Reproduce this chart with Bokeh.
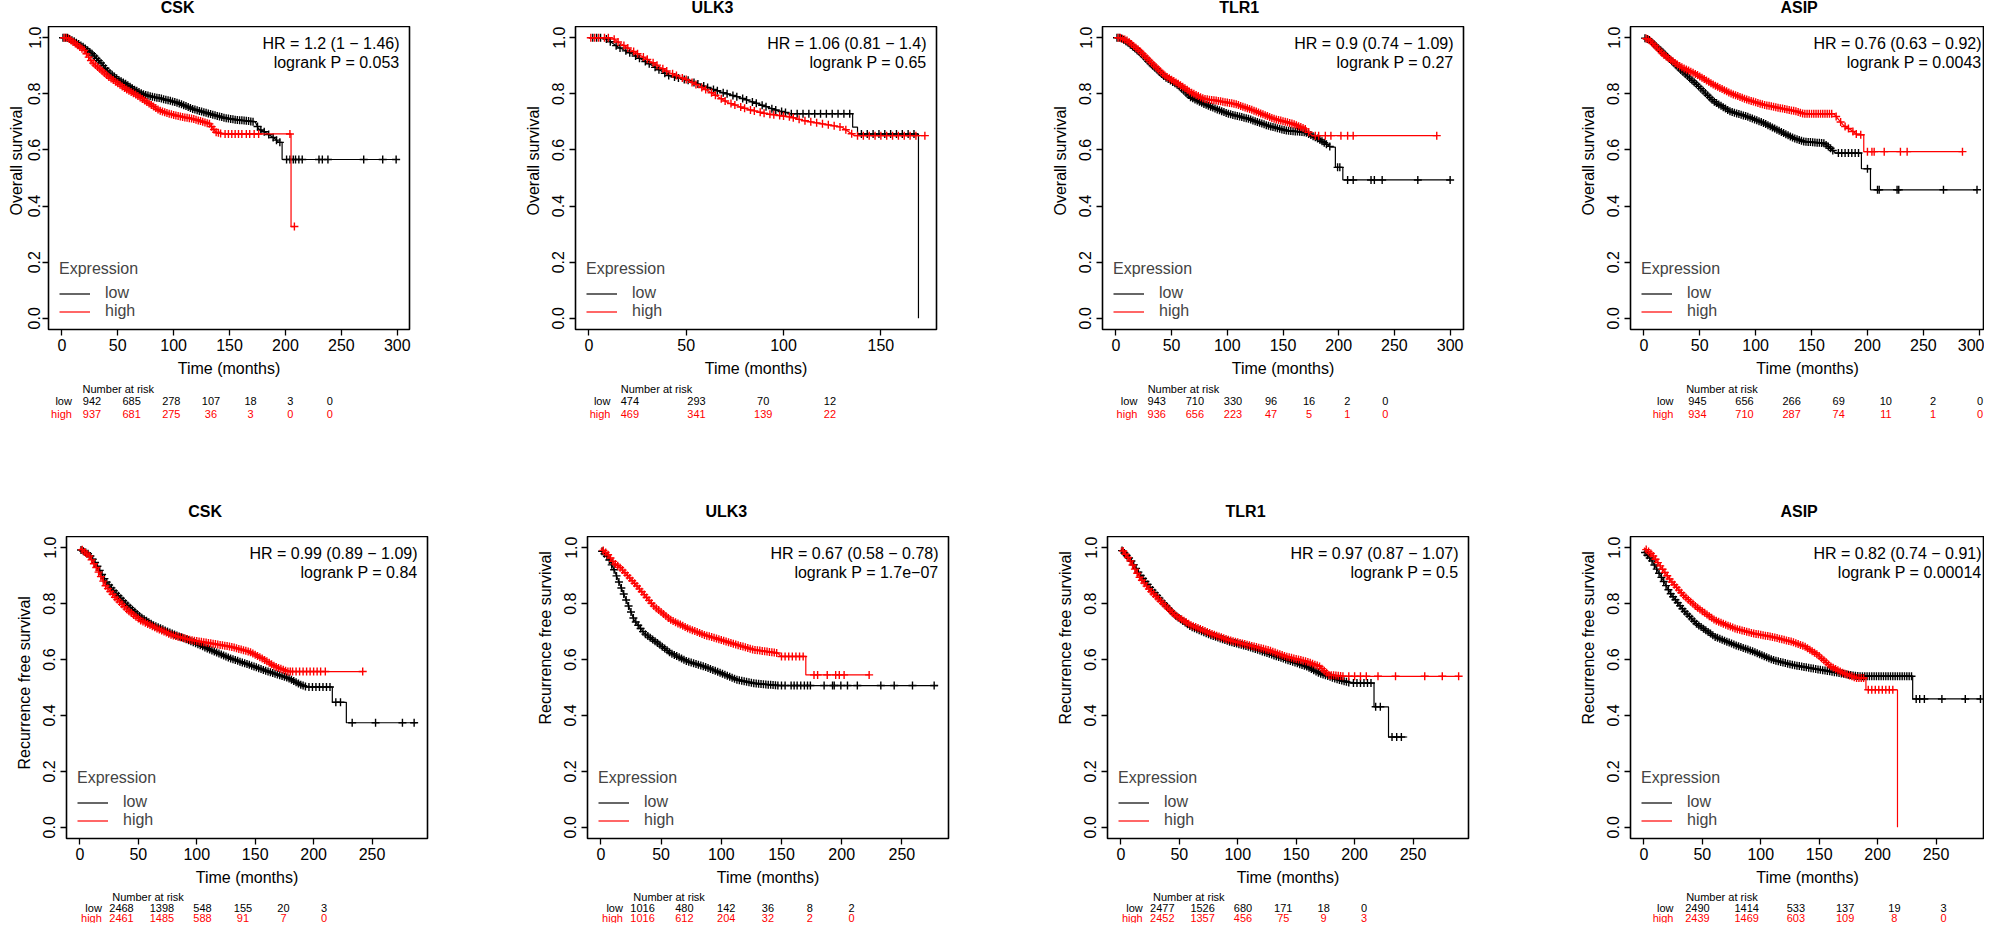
import numpy as np
from bokeh.plotting import figure
from bokeh.models import Range1d, FixedTicker, PrintfTickFormatter, Legend, LegendItem, Title
from bokeh.layouts import row, column
from bokeh.embed import file_html
from bokeh.resources import INLINE
from bokeh.core.properties import value

FONT = "Liberation Sans"
RED = "#ff0000"
BLACK = "#000000"

# ---------------------------------------------------------------- data
genes = ["CSK", "ULK3", "TLR1", "ASIP"]
y_ticks = [0.0, 0.2, 0.4, 0.6, 0.8, 1.0]
os_ticks = [[0, 50, 100, 150, 200, 250, 300], [0, 50, 100, 150],
            [0, 50, 100, 150, 200, 250, 300], [0, 50, 100, 150, 200, 250, 300]]
rfs_ticks = [[0, 50, 100, 150, 200, 250]] * 4
os_tmax = [299, 171.7, 300, 299]
rfs_tmax = [286, 277.6, 286, 286]
os_hr = ["HR = 1.2 (1 \u2212 1.46)", "HR = 1.06 (0.81 \u2212 1.4)",
         "HR = 0.9 (0.74 \u2212 1.09)", "HR = 0.76 (0.63 \u2212 0.92)"]
os_p = ["logrank P = 0.053", "logrank P = 0.65", "logrank P = 0.27", "logrank P = 0.0043"]
rfs_hr = ["HR = 0.99 (0.89 \u2212 1.09)", "HR = 0.67 (0.58 \u2212 0.78)",
          "HR = 0.97 (0.87 \u2212 1.07)", "HR = 0.82 (0.74 \u2212 0.91)"]
rfs_p = ["logrank P = 0.84", "logrank P = 1.7e\u221207", "logrank P = 0.5", "logrank P = 0.00014"]

# ---- Overall survival: CSK
os_csk_low_t = [0, 5, 12, 20, 27, 35, 42, 50, 57, 65, 72, 80, 87, 95, 102, 110, 117, 125, 132, 140,
                147, 155, 162, 173, 176, 182, 186, 191, 194, 197, 197, 299]
os_csk_low_s = [1.0, 1.0, 0.985, 0.965, 0.943, 0.91, 0.877, 0.852, 0.836, 0.815, 0.80, 0.79, 0.785, 0.777,
                0.77, 0.758, 0.746, 0.737, 0.729, 0.72, 0.713, 0.708, 0.705, 0.70, 0.675, 0.663, 0.652,
                0.639, 0.627, 0.627, 0.566, 0.566]
os_csk_low_c = [1, 3, 5, 7, 9, 11, 13, 15, 17, 19, 21, 23, 25, 27, 29, 31, 33, 35, 37, 39, 41, 43, 45, 47,
                49, 51, 53, 55, 57, 59, 61, 63, 65, 67, 69, 71, 73, 75, 77, 79, 81, 83, 85, 87, 89, 91, 93,
                95, 97, 99, 101, 103, 105, 107, 109, 111, 113, 115, 117, 119, 121, 123, 125, 127, 129, 131,
                133, 135, 137, 139, 141, 143, 145, 147, 149, 151, 153, 155, 157, 159, 161, 163, 165, 167,
                169, 171, 175, 178, 181, 185, 189, 192, 195, 201, 204, 207, 209, 212, 215, 230, 233, 238,
                270, 287, 299]
os_csk_high_t = [0, 5, 12, 20, 27, 35, 42, 50, 57, 65, 72, 80, 87, 95, 102, 110, 117, 125, 132, 138,
                 144, 205, 205, 208]
os_csk_high_s = [1.0, 1.0, 0.979, 0.955, 0.913, 0.885, 0.86, 0.838, 0.818, 0.80, 0.782, 0.76, 0.741, 0.73,
                 0.723, 0.716, 0.711, 0.702, 0.693, 0.663, 0.657, 0.657, 0.327, 0.327]
os_csk_high_c = [2, 4, 6, 8, 10, 12, 14, 16, 18, 20, 22, 24, 26, 28, 30, 32, 34, 36, 38, 40, 42, 44, 46,
                 48, 50, 52, 54, 56, 58, 60, 62, 64, 66, 68, 70, 72, 74, 76, 78, 80, 82, 84, 86, 88, 90, 92,
                 94, 96, 98, 100, 102, 104, 106, 108, 110, 112, 114, 116, 118, 120, 122, 124, 126, 128,
                 130, 132, 134, 136, 138, 140, 142, 146, 149, 152, 155, 158, 161, 165, 168, 172, 176, 204,
                 208]
os_csk_risk_low = [942, 685, 278, 107, 18, 3, 0]
os_csk_risk_high = [937, 681, 275, 36, 3, 0, 0]

# ---- Overall survival: ULK3
os_ulk3_low_t = [0, 8, 15, 22, 31, 41, 51, 58, 68, 77, 87, 97, 104, 135.5, 135.5, 138, 138, 169.3, 169.3]
os_ulk3_low_s = [1.0, 1.0, 0.967, 0.943, 0.907, 0.865, 0.848, 0.83, 0.806, 0.788, 0.764, 0.74, 0.729,
                 0.729, 0.681, 0.681, 0.657, 0.657, 0.0]
os_ulk3_low_c = [2, 4, 6, 9, 11, 14, 16, 19, 21, 24, 26, 29, 31, 34, 36, 39, 41, 44, 46, 49, 51, 54, 56,
                 59, 61, 64, 66, 69, 71, 74, 76, 79, 81, 84, 86, 89, 91, 94, 96, 99, 101, 104, 107, 110,
                 113, 116, 119, 122, 125, 128, 131, 134, 140, 143, 146, 149, 152, 155, 158, 161, 164, 167]
os_ulk3_high_t = [0, 12, 15, 22, 31, 41, 51, 61, 71, 81, 91, 104, 110, 120, 130, 136.5, 172.6]
os_ulk3_high_s = [1.0, 1.0, 0.985, 0.955, 0.919, 0.877, 0.848, 0.812, 0.77, 0.746, 0.729, 0.717, 0.705,
                  0.693, 0.681, 0.651, 0.651]
os_ulk3_high_c = [1, 3, 5, 8, 10, 13, 15, 18, 20, 23, 25, 28, 30, 33, 35, 38, 40, 43, 45, 48, 50, 53, 55,
                  58, 60, 63, 65, 68, 70, 73, 75, 78, 80, 83, 85, 88, 90, 93, 95, 98, 100, 103, 105, 108,
                  111, 114, 117, 120, 123, 126, 129, 132, 135, 138, 141, 144, 147, 150, 153, 156, 159, 162,
                  165, 168, 172.6]
os_ulk3_risk_low = [474, 293, 70, 12]
os_ulk3_risk_high = [469, 341, 139, 22]

# ---- Overall survival: TLR1
os_tlr1_low_t = [0, 4, 10, 21, 33, 44, 56, 67, 79, 90, 101, 119, 136, 153, 170, 182, 193, 197, 197,
                 203.7, 203.7, 300]
os_tlr1_low_s = [1.0, 1.0, 0.985, 0.949, 0.90, 0.86, 0.83, 0.788, 0.764, 0.746, 0.729, 0.711, 0.687,
                 0.669, 0.663, 0.639, 0.61, 0.61, 0.538, 0.538, 0.493, 0.493]
os_tlr1_low_c = [1, 3, 5, 7, 9, 11, 13, 15, 17, 19, 21, 23, 25, 27, 29, 31, 33, 35, 37, 39, 41, 43, 45,
                 47, 49, 51, 53, 55, 57, 59, 61, 63, 65, 67, 69, 71, 73, 75, 77, 79, 81, 83, 85, 87, 89, 91,
                 93, 95, 97, 99, 101, 103, 105, 107, 109, 111, 113, 115, 117, 119, 121, 123, 125, 127, 129,
                 131, 133, 135, 137, 139, 141, 143, 145, 147, 149, 151, 153, 155, 157, 159, 161, 163, 165,
                 167, 169, 171, 173, 175, 177, 179, 181, 183, 185, 187, 189, 192, 199, 201, 208, 213, 229,
                 232, 239, 271, 300]
os_tlr1_high_t = [0, 4, 10, 21, 33, 44, 56, 67, 79, 90, 107, 124, 142, 159, 170, 176, 288]
os_tlr1_high_s = [1.0, 1.0, 0.99, 0.955, 0.907, 0.865, 0.836, 0.806, 0.782, 0.776, 0.764, 0.74, 0.711,
                  0.693, 0.675, 0.651, 0.651]
os_tlr1_high_c = [2, 4, 6, 8, 10, 12, 14, 16, 18, 20, 22, 24, 26, 28, 30, 32, 34, 36, 38, 40, 42, 44, 46,
                  48, 50, 52, 54, 56, 58, 60, 62, 64, 66, 68, 70, 72, 74, 76, 78, 80, 82, 84, 86, 88, 90,
                  92, 94, 96, 98, 100, 102, 104, 106, 108, 110, 112, 114, 116, 118, 120, 122, 124, 126, 128,
                  130, 132, 134, 136, 138, 140, 142, 144, 146, 148, 150, 152, 154, 156, 158, 160, 162, 164,
                  166, 168, 170, 173, 179, 182, 188, 193, 202, 208, 213, 288]
os_tlr1_risk_low = [943, 710, 330, 96, 16, 2, 0]
os_tlr1_risk_high = [936, 656, 223, 47, 5, 1, 0]

# ---- Overall survival: ASIP
os_asip_low_t = [0, 5, 17.8, 32.7, 47.6, 62.5, 77.4, 92.4, 107.3, 122, 134, 143, 161, 167, 171.4, 194.6,
                 194.6, 202.7, 202.7, 298]
os_asip_low_s = [1.0, 0.992, 0.945, 0.886, 0.832, 0.773, 0.737, 0.719, 0.696, 0.666, 0.642, 0.63, 0.624,
                 0.606, 0.589, 0.589, 0.533, 0.533, 0.458, 0.458]
os_asip_low_c = [1, 3, 5, 7, 9, 11, 13, 15, 17, 19, 21, 23, 25, 27, 29, 31, 33, 35, 37, 39, 41, 43, 45,
                 47, 49, 51, 53, 55, 57, 59, 61, 63, 65, 67, 69, 71, 73, 75, 77, 79, 81, 83, 85, 87, 89, 91,
                 93, 95, 97, 99, 101, 103, 105, 107, 109, 111, 113, 115, 117, 119, 121, 123, 125, 127, 129,
                 131, 133, 135, 137, 139, 141, 143, 145, 147, 149, 151, 153, 155, 157, 159, 161, 163, 165,
                 167, 169, 174, 177, 180, 183, 186, 189, 192, 200, 209, 210.5, 226.5, 228, 268, 298]
os_asip_high_t = [0, 5, 17.8, 32.7, 47.6, 62.5, 77.4, 92.4, 107.3, 122, 137, 143, 170, 174.4, 179, 185,
                  191, 196.7, 196.7, 285]
os_asip_high_s = [1.0, 0.992, 0.939, 0.897, 0.868, 0.832, 0.802, 0.779, 0.761, 0.749, 0.737, 0.729, 0.729,
                  0.707, 0.686, 0.672, 0.654, 0.654, 0.594, 0.594]
os_asip_high_c = [2, 4, 6, 8, 10, 12, 14, 16, 18, 20, 22, 24, 26, 28, 30, 32, 34, 36, 38, 40, 42, 44, 46,
                  48, 50, 52, 54, 56, 58, 60, 62, 64, 66, 68, 70, 72, 74, 76, 78, 80, 82, 84, 86, 88, 90,
                  92, 94, 96, 98, 100, 102, 104, 106, 108, 110, 112, 114, 116, 118, 120, 122, 124, 126, 128,
                  130, 132, 134, 136, 138, 140, 142, 144, 146, 148, 150, 152, 154, 156, 158, 160, 162, 164,
                  166, 168, 172, 176, 180, 183, 187, 190, 194, 200, 204, 206, 215, 229.5, 235.5, 285]
os_asip_risk_low = [945, 656, 266, 69, 10, 2, 0]
os_asip_risk_high = [934, 710, 287, 74, 11, 1, 0]

# ---- Recurrence free survival: CSK
rfs_csk_low_t = [0, 8, 14, 22, 30, 41, 52, 63, 79, 96, 112, 129, 145, 161, 178, 189, 194, 216, 216, 228,
                 228, 288]
rfs_csk_low_s = [0.994, 0.976, 0.941, 0.882, 0.841, 0.793, 0.752, 0.723, 0.693, 0.664, 0.634, 0.604,
                 0.581, 0.557, 0.534, 0.51, 0.502, 0.502, 0.447, 0.447, 0.374, 0.374]
rfs_csk_low_c = [1, 3, 5, 7, 9, 11, 13, 15, 17, 19, 21, 23, 25, 27, 29, 31, 33, 35, 37, 39, 41, 43, 45,
                 47, 49, 51, 53, 55, 57, 59, 61, 63, 65, 67, 69, 71, 73, 75, 77, 79, 81, 83, 85, 87, 89, 91,
                 93, 95, 97, 99, 101, 103, 105, 107, 109, 111, 113, 115, 117, 119, 121, 123, 125, 127, 129,
                 131, 133, 135, 137, 139, 141, 143, 145, 147, 149, 151, 153, 155, 157, 159, 161, 163, 165,
                 167, 169, 171, 173, 175, 177, 179, 181, 183, 185, 187, 189, 191, 193, 196, 199, 202, 205,
                 208, 211, 214, 219, 223, 233, 253, 276, 286]
rfs_csk_high_t = [0, 8, 14, 22, 30, 41, 52, 63, 79, 96, 112, 129, 145, 156, 167, 178, 242]
rfs_csk_high_s = [1.0, 0.97, 0.929, 0.864, 0.823, 0.776, 0.74, 0.717, 0.687, 0.669, 0.658, 0.646, 0.628,
                  0.604, 0.575, 0.557, 0.557]
rfs_csk_high_c = [2, 4, 6, 8, 10, 12, 14, 16, 18, 20, 22, 24, 26, 28, 30, 32, 34, 36, 38, 40, 42, 44, 46,
                  48, 50, 52, 54, 56, 58, 60, 62, 64, 66, 68, 70, 72, 74, 76, 78, 80, 82, 84, 86, 88, 90,
                  92, 94, 96, 98, 100, 102, 104, 106, 108, 110, 112, 114, 116, 118, 120, 122, 124, 126, 128,
                  130, 132, 134, 136, 138, 140, 142, 144, 146, 148, 150, 152, 154, 156, 158, 160, 162, 164,
                  166, 168, 170, 172, 174, 176, 178, 180, 182, 185, 188, 191, 194, 197, 200, 203, 206, 210,
                  242]
rfs_csk_risk_low = [2468, 1398, 548, 155, 20, 3]
rfs_csk_risk_high = [2461, 1485, 588, 91, 7, 0]

# ---- Recurrence free survival: ULK3
rfs_ulk3_low_t = [0, 6, 11, 16.5, 22, 27.6, 36, 47, 58, 72, 86, 100, 113.5, 127, 147, 280]
rfs_ulk3_low_s = [0.992, 0.965, 0.921, 0.861, 0.802, 0.742, 0.694, 0.659, 0.623, 0.593, 0.575, 0.551,
                  0.527, 0.515, 0.507, 0.507]
rfs_ulk3_low_c = [1, 3, 5, 7, 9, 11, 13, 15, 17, 19, 21, 23, 25, 27, 29, 31, 33, 35, 37, 39, 41, 43, 45,
                  47, 49, 51, 53, 55, 57, 59, 61, 63, 65, 67, 69, 71, 73, 75, 77, 79, 81, 83, 85, 87, 89,
                  91, 93, 95, 97, 99, 101, 103, 105, 107, 109, 111, 113, 115, 117, 119, 121, 123, 125, 127,
                  129, 131, 133, 135, 137, 139, 141, 143, 145, 147, 150, 153, 158, 160.5, 163, 166, 169,
                  171.6, 174, 185.4, 192.4, 193.8, 199.3, 204.8, 213, 232.5, 243.6, 258.8, 276.8]
rfs_ulk3_high_t = [0, 6, 11, 16.5, 30.4, 44.2, 58, 72, 86, 100, 113.5, 127, 147, 149.5, 170.2, 170.2,
                   222.8]
rfs_ulk3_high_s = [0.998, 0.975, 0.945, 0.927, 0.861, 0.79, 0.742, 0.712, 0.688, 0.67, 0.652, 0.635,
                   0.623, 0.611, 0.611, 0.545, 0.545]
rfs_ulk3_high_c = [2, 4, 6, 8, 10, 12, 14, 16, 18, 20, 22, 24, 26, 28, 30, 32, 34, 36, 38, 40, 42, 44, 46,
                   48, 50, 52, 54, 56, 58, 60, 62, 64, 66, 68, 70, 72, 74, 76, 78, 80, 82, 84, 86, 88, 90,
                   92, 94, 96, 98, 100, 102, 104, 106, 108, 110, 112, 114, 116, 118, 120, 122, 124, 126,
                   128, 130, 132, 134, 136, 138, 140, 142, 144, 146, 150, 153, 156, 159, 162, 165, 168,
                   177, 180, 188, 195, 198, 202, 222.8]
rfs_ulk3_risk_low = [1016, 480, 142, 36, 8, 2]
rfs_ulk3_risk_high = [1016, 612, 204, 32, 2, 0]

# ---- Recurrence free survival: TLR1
rfs_tlr1_low_t = [0, 8, 16, 25, 36, 46.5, 60, 77, 93, 109, 126, 142, 159, 170, 186, 197, 216.6, 216.6,
                  229, 229, 245]
rfs_tlr1_low_s = [0.994, 0.959, 0.906, 0.858, 0.805, 0.758, 0.717, 0.687, 0.664, 0.646, 0.622, 0.599,
                  0.575, 0.551, 0.528, 0.516, 0.516, 0.431, 0.431, 0.323, 0.323]
rfs_tlr1_low_c = [1, 3, 5, 7, 9, 11, 13, 15, 17, 19, 21, 23, 25, 27, 29, 31, 33, 35, 37, 39, 41, 43, 45,
                  47, 49, 51, 53, 55, 57, 59, 61, 63, 65, 67, 69, 71, 73, 75, 77, 79, 81, 83, 85, 87, 89,
                  91, 93, 95, 97, 99, 101, 103, 105, 107, 109, 111, 113, 115, 117, 119, 121, 123, 125, 127,
                  129, 131, 133, 135, 137, 139, 141, 143, 145, 147, 149, 151, 153, 155, 157, 159, 161, 163,
                  165, 167, 169, 171, 173, 175, 177, 179, 181, 183, 185, 187, 189, 191, 193, 195, 199, 202,
                  205, 208, 211, 214, 218, 222, 232, 236, 240]
rfs_tlr1_high_t = [0, 8, 16, 25, 36, 46.5, 60, 77, 93, 109, 126, 142, 159, 170, 178, 191, 289]
rfs_tlr1_high_s = [1.0, 0.953, 0.894, 0.847, 0.80, 0.758, 0.723, 0.693, 0.669, 0.652, 0.634, 0.61, 0.593,
                   0.575, 0.545, 0.54, 0.54]
rfs_tlr1_high_c = [2, 4, 6, 8, 10, 12, 14, 16, 18, 20, 22, 24, 26, 28, 30, 32, 34, 36, 38, 40, 42, 44, 46,
                   48, 50, 52, 54, 56, 58, 60, 62, 64, 66, 68, 70, 72, 74, 76, 78, 80, 82, 84, 86, 88, 90,
                   92, 94, 96, 98, 100, 102, 104, 106, 108, 110, 112, 114, 116, 118, 120, 122, 124, 126,
                   128, 130, 132, 134, 136, 138, 140, 142, 144, 146, 148, 150, 152, 154, 156, 158, 160, 162,
                   164, 166, 168, 170, 172, 174, 176, 178, 180, 182, 184, 186, 188, 190, 195, 200, 205, 210,
                   220, 235, 260, 275, 289]
rfs_tlr1_risk_low = [2477, 1526, 680, 171, 18, 0]
rfs_tlr1_risk_high = [2452, 1357, 456, 75, 9, 3]

# ---- Recurrence free survival: ASIP
rfs_asip_low_t = [0, 7, 15, 23, 34, 45, 61, 78, 94, 110, 127, 143, 160, 176, 185, 230, 230, 288]
rfs_asip_low_s = [0.988, 0.953, 0.894, 0.835, 0.776, 0.728, 0.681, 0.652, 0.628, 0.599, 0.581, 0.569,
                  0.557, 0.545, 0.54, 0.54, 0.459, 0.459]
rfs_asip_low_c = [1, 3, 5, 7, 9, 11, 13, 15, 17, 19, 21, 23, 25, 27, 29, 31, 33, 35, 37, 39, 41, 43, 45,
                  47, 49, 51, 53, 55, 57, 59, 61, 63, 65, 67, 69, 71, 73, 75, 77, 79, 81, 83, 85, 87, 89,
                  91, 93, 95, 97, 99, 101, 103, 105, 107, 109, 111, 113, 115, 117, 119, 121, 123, 125, 127,
                  129, 131, 133, 135, 137, 139, 141, 143, 145, 147, 149, 151, 153, 155, 157, 159, 161, 163,
                  165, 167, 169, 171, 173, 175, 177, 179, 181, 183, 185, 187, 189, 191, 193, 195, 197, 199,
                  201, 203, 205, 207, 209, 211, 213, 215, 217, 219, 221, 223, 225, 227, 229, 233, 236, 240,
                  255, 275, 288]
rfs_asip_high_t = [0, 7, 15, 23, 34, 45, 61, 78, 94, 110, 127, 138, 149, 160, 171, 182, 190, 190, 217, 217]
rfs_asip_high_s = [1.0, 0.976, 0.929, 0.882, 0.829, 0.788, 0.74, 0.711, 0.693, 0.681, 0.663, 0.646, 0.616,
                   0.575, 0.551, 0.534, 0.534, 0.492, 0.492, 0.0]
rfs_asip_high_c = [2, 4, 6, 8, 10, 12, 14, 16, 18, 20, 22, 24, 26, 28, 30, 32, 34, 36, 38, 40, 42, 44, 46,
                   48, 50, 52, 54, 56, 58, 60, 62, 64, 66, 68, 70, 72, 74, 76, 78, 80, 82, 84, 86, 88, 90,
                   92, 94, 96, 98, 100, 102, 104, 106, 108, 110, 112, 114, 116, 118, 120, 122, 124, 126,
                   128, 130, 132, 134, 136, 138, 140, 142, 144, 146, 148, 150, 152, 154, 156, 158, 160, 162,
                   164, 166, 168, 170, 172, 174, 176, 178, 180, 182, 184, 186, 188, 192, 195, 198, 201, 204,
                   207, 210, 213]
rfs_asip_risk_low = [2490, 1414, 533, 137, 19, 3]
rfs_asip_risk_high = [2439, 1469, 603, 109, 8, 0]

os_curves = [
    (os_csk_low_t, os_csk_low_s, os_csk_low_c, os_csk_high_t, os_csk_high_s, os_csk_high_c),
    (os_ulk3_low_t, os_ulk3_low_s, os_ulk3_low_c, os_ulk3_high_t, os_ulk3_high_s, os_ulk3_high_c),
    (os_tlr1_low_t, os_tlr1_low_s, os_tlr1_low_c, os_tlr1_high_t, os_tlr1_high_s, os_tlr1_high_c),
    (os_asip_low_t, os_asip_low_s, os_asip_low_c, os_asip_high_t, os_asip_high_s, os_asip_high_c),
]
os_risk = [(os_csk_risk_low, os_csk_risk_high), (os_ulk3_risk_low, os_ulk3_risk_high),
           (os_tlr1_risk_low, os_tlr1_risk_high), (os_asip_risk_low, os_asip_risk_high)]
rfs_curves = [
    (rfs_csk_low_t, rfs_csk_low_s, rfs_csk_low_c, rfs_csk_high_t, rfs_csk_high_s, rfs_csk_high_c),
    (rfs_ulk3_low_t, rfs_ulk3_low_s, rfs_ulk3_low_c, rfs_ulk3_high_t, rfs_ulk3_high_s, rfs_ulk3_high_c),
    (rfs_tlr1_low_t, rfs_tlr1_low_s, rfs_tlr1_low_c, rfs_tlr1_high_t, rfs_tlr1_high_s, rfs_tlr1_high_c),
    (rfs_asip_low_t, rfs_asip_low_s, rfs_asip_low_c, rfs_asip_high_t, rfs_asip_high_s, rfs_asip_high_c),
]
rfs_risk = [(rfs_csk_risk_low, rfs_csk_risk_high), (rfs_ulk3_risk_low, rfs_ulk3_risk_high),
            (rfs_tlr1_risk_low, rfs_tlr1_risk_high), (rfs_asip_risk_low, rfs_asip_risk_high)]

# ---------------------------------------------------------------- layout geometry (pixels)
TOP = dict(widths=[509, 527, 528, 420], lefts=[48, 66, 66, 66], fws=[361, 361, 361, 354],
           ylab_off=[114, 114, 114, 114], lab_so=[2, 5, 5, 5], ylab_so=[2, 16, 16, 16],
           title_h=26, title_y=7, frame_h=303, bottom=52, risk_h=41, risk_y=[7, 19.7, 32.7])
BOT = dict(widths=[521, 520, 523, 420], lefts=[66, 66, 66, 66], fws=[361, 361, 361, 354],
           ylab_off=[69, 114, 114, 114], lab_so=[5, 5, 5, 5], ylab_so=[16, 16, 16, 16],
           title_h=114, title_y=89, frame_h=302, bottom=52, risk_h=33, risk_y=[6, 17, 27])


def txt(fig, xs, ys, texts, size, color="black", align="center", style="normal"):
    fig.text(x=xs, y=ys, text=texts, text_align=align, text_baseline="middle",
             text_font=value(FONT), text_font_size=size, text_font_style=style, text_color=color)


def blank(W, H, xr, yr):
    f = figure(width=W, height=H, x_range=xr, y_range=yr, x_axis_location=None, y_axis_location=None,
               min_border=0, toolbar_location=None, output_backend="svg", title=None,
               outline_line_color=None, background_fill_color="white", border_fill_color="white")
    f.grid.visible = False
    return f


def panel(g, i, geo, ylab, curves, risk, ticks, tmax, hr, lp):
    W, bl, fw = geo["widths"][i], geo["lefts"][i], geo["fws"][i]
    rb = W - bl - fw
    k = 361.0 / (1.08 * tmax)          # px per month (R pads the data range by 4 %)
    x0 = -0.04 * tmax
    x1 = x0 + fw / k

    tf = blank(W, geo["title_h"], Range1d(0, W), Range1d(geo["title_h"], 0))
    txt(tf, [bl + 134], [geo["title_y"]], [g], "16px", style="bold")

    p = figure(frame_width=fw, frame_height=geo["frame_h"], x_range=Range1d(x0, x1),
               y_range=Range1d(-0.04, 1.04), min_border_left=bl, min_border_right=rb,
               min_border_top=0, min_border_bottom=geo["bottom"], toolbar_location=None,
               output_backend="svg", title=None, background_fill_color="white",
               border_fill_color="white")
    p.outline_line_color = "black"
    p.outline_line_width = 1.6
    p.grid.visible = False
    p.xaxis.ticker = FixedTicker(ticks=ticks)
    p.yaxis.ticker = FixedTicker(ticks=y_ticks)
    p.yaxis.formatter = PrintfTickFormatter(format="%.1f")
    p.yaxis.major_label_orientation = "parallel"
    for ax in (p.xaxis[0], p.yaxis[0]):
        ax.axis_line_color = None
        ax.major_tick_out = 6
        ax.major_tick_in = 0
        ax.minor_tick_out = 0
        ax.minor_tick_in = 0
        ax.major_tick_line_color = "black"
        ax.major_tick_line_width = 1.3
        ax.major_label_text_font = FONT
        ax.major_label_text_font_size = "16px"
        ax.major_label_text_color = "black"
        ax.axis_label_text_font = FONT
        ax.axis_label_text_font_size = "16px"
        ax.axis_label_text_font_style = "normal"
        ax.axis_label_text_color = "black"
    p.xaxis.axis_label = "Time (months)"
    p.xaxis.major_label_standoff = 3
    p.xaxis.axis_label_standoff = 6
    p.yaxis.major_label_standoff = geo["lab_so"][i]
    p.add_layout(Title(text=ylab, align="left", offset=geo["ylab_off"][i], standoff=geo["ylab_so"][i],
                       text_font=FONT, text_font_size="16px", text_font_style="normal",
                       text_color="black"), "left")

    lt, ls, lc, ht, hs, hc = curves
    r_low = p.line(lt, ls, line_color=BLACK, line_width=1.2)
    p.scatter(lc, np.interp(lc, lt, ls), marker="cross", size=8, line_color=BLACK, line_width=1.4)
    r_high = p.line(ht, hs, line_color=RED, line_width=1.2)
    p.scatter(hc, np.interp(hc, ht, hs), marker="cross", size=8, line_color=RED, line_width=1.4)

    hx = x0 + 351.0 / k
    txt(p, [hx, hx], [0.978, 0.911], [hr, lp], "16px", align="right")

    leg = Legend(items=[LegendItem(label="low", renderers=[r_low]),
                        LegendItem(label="high", renderers=[r_high])],
                 title="Expression", location=(11, 9), orientation="vertical",
                 border_line_color=None, background_fill_alpha=0, padding=0, margin=0, spacing=0,
                 label_height=17, glyph_height=17, glyph_width=31, label_standoff=15,
                 title_standoff=6, label_text_font=FONT, label_text_font_size="16px",
                 title_text_font=FONT, title_text_font_size="16px", title_text_font_style="normal")
    p.add_layout(leg)

    H = geo["risk_h"]
    ry = geo["risk_y"]
    rf = blank(W, H, Range1d(x0 - bl / k, x0 + (W - bl) / k), Range1d(H, 0))
    low, high = risk
    txt(rf, [x0], [ry[0]], ["Number at risk"], "11px", align="left")
    txt(rf, [x0 - 15 / k], [ry[1]], ["low"], "11px", align="right")
    txt(rf, [x0 - 15 / k], [ry[2]], ["high"], "11px", color=RED, align="right")
    txt(rf, ticks, [ry[1]] * len(ticks), [str(v) for v in low], "11px")
    txt(rf, ticks, [ry[2]] * len(ticks), [str(v) for v in high], "11px", color=RED)
    return column(tf, p, rf, spacing=0)


top_row = row([panel(genes[i], i, TOP, "Overall survival", os_curves[i], os_risk[i], os_ticks[i],
                     os_tmax[i], os_hr[i], os_p[i]) for i in range(4)], spacing=0)
bot_row = row([panel(genes[i], i, BOT, "Recurrence free survival", rfs_curves[i], rfs_risk[i],
                     rfs_ticks[i], rfs_tmax[i], rfs_hr[i], rfs_p[i]) for i in range(4)], spacing=0)
layout = column(top_row, bot_row, spacing=0)

open("out.html", "w").write(file_html(layout, INLINE))
